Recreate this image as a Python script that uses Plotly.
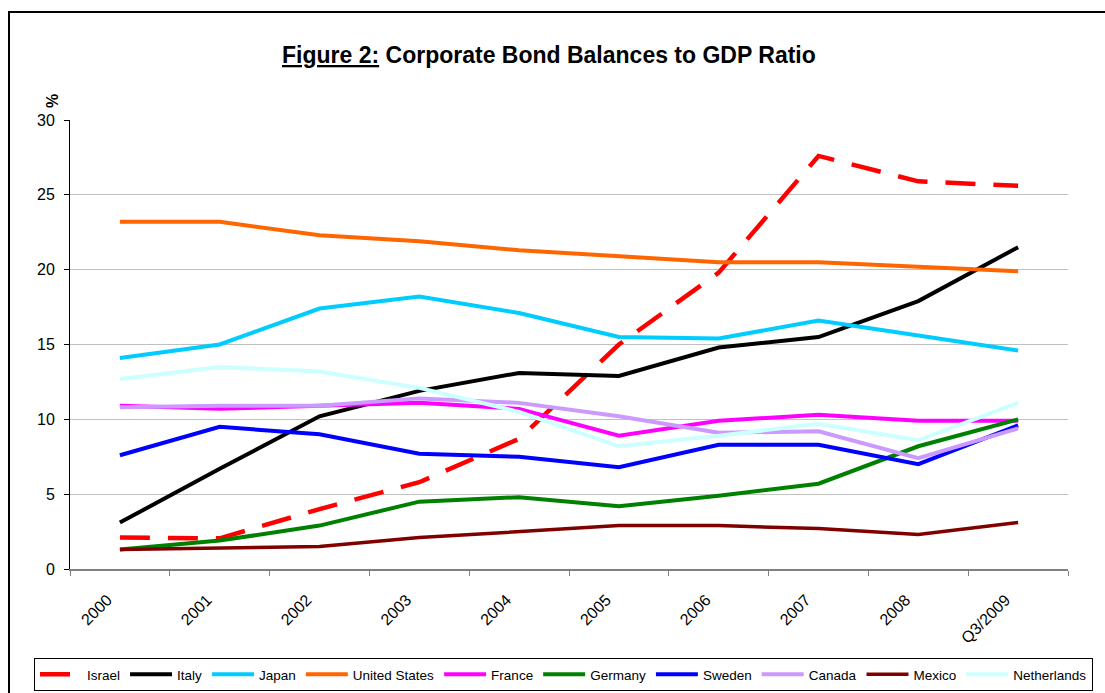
import plotly.graph_objects as go

years = ["2000", "2001", "2002", "2003", "2004", "2005", "2006", "2007", "2008", "Q3/2009"]

israel = [2.1, 2.05, 4.0, 5.8, 8.7, 15.0, 19.8, 27.6, 25.9, 25.6]
italy = [3.1, 6.7, 10.2, 11.9, 13.1, 12.9, 14.8, 15.5, 17.9, 21.5]
japan = [14.1, 15.0, 17.4, 18.2, 17.1, 15.5, 15.4, 16.6, 15.6, 14.6]
united_states = [23.2, 23.2, 22.3, 21.9, 21.3, 20.9, 20.5, 20.5, 20.2, 19.9]
france = [10.9, 10.7, 10.9, 11.1, 10.7, 8.9, 9.9, 10.3, 9.9, 9.9]
germany = [1.3, 1.9, 2.9, 4.5, 4.8, 4.2, 4.9, 5.7, 8.2, 10.0]
sweden = [7.6, 9.5, 9.0, 7.7, 7.5, 6.8, 8.3, 8.3, 7.0, 9.6]
canada = [10.8, 10.9, 10.9, 11.4, 11.1, 10.2, 9.1, 9.2, 7.4, 9.4]
mexico = [1.3, 1.4, 1.5, 2.1, 2.5, 2.9, 2.9, 2.7, 2.3, 3.1]
netherlands = [12.7, 13.5, 13.2, 12.1, 10.5, 8.2, 8.9, 9.7, 8.6, 11.1]

series = [
    ("Israel", israel, "#FF0000", "30px,18px", 4.5),
    ("Italy", italy, "#000000", "solid", 4),
    ("Japan", japan, "#00CCFF", "solid", 4),
    ("United States", united_states, "#FF6600", "solid", 4),
    ("France", france, "#FF00FF", "solid", 4),
    ("Germany", germany, "#008000", "solid", 4),
    ("Sweden", sweden, "#0000FF", "solid", 4),
    ("Canada", canada, "#CC99FF", "solid", 4),
    ("Mexico", mexico, "#800000", "solid", 3.5),
    ("Netherlands", netherlands, "#CCFFFF", "solid", 4),
]

FONT = "Liberation Sans, Arial, sans-serif"

fig = go.Figure()
for name, vals, color, dash, width in series:
    fig.add_trace(go.Scatter(
        x=years, y=vals, name=name, mode="lines",
        line=dict(color=color, width=width, dash=dash),
    ))

W, H = 1105, 693
L, R, T, B = 70, 37, 120, 124
pw, ph = W - L - R, H - T - B

def px2x(px):
    return (px - L) / pw

def px2y(py):
    return (H - B - py) / ph

# tick text: category label padded so the rotated label ends left of the category centre
tick_text = [y + "\u00a0" * 4 for y in years]

fig.update_layout(
    width=W, height=H,
    margin=dict(l=L, r=R, t=T, b=B, autoexpand=False),
    paper_bgcolor="white", plot_bgcolor="white",
    font=dict(family=FONT, size=16, color="black"),
    showlegend=True,
    legend=dict(
        orientation="h", x=px2x(34), xanchor="left", y=px2y(658), yanchor="top",
        bordercolor="black", borderwidth=1, font=dict(size=13.5, family=FONT),
        bgcolor="white", tracegroupgap=0, itemwidth=42,
    ),
    xaxis=dict(
        type="category", showgrid=False, showline=True, linecolor="#808080", linewidth=1.5,
        ticks="outside", ticklen=5, tickcolor="#808080", tickson="boundaries",
        tickangle=-45, tickfont=dict(size=16, family=FONT), range=[-0.5, 9.5],
        tickmode="array", tickvals=years, ticktext=tick_text,
        ticklabelstandoff=1,
    ),
    yaxis=dict(
        range=[0, 30], dtick=5, showgrid=True, gridcolor="#C0C0C0", gridwidth=1,
        showline=True, linecolor="#000000", linewidth=1, ticks="outside", ticklen=5,
        tickcolor="#000000", tickfont=dict(size=16, family=FONT), zeroline=False,
        ticklabelstandoff=6,
    ),
    annotations=[
        dict(text="<b><u>Figure 2:</u> Corporate Bond Balances to GDP Ratio</b>",
             xref="paper", yref="paper", x=px2x(549), y=px2y(55),
             xanchor="center", yanchor="middle", showarrow=False,
             font=dict(size=23, family=FONT)),
        dict(text="<b>%</b>", xref="paper", yref="paper", x=px2x(52), y=px2y(101),
             xanchor="center", yanchor="middle", showarrow=False, textangle=-90,
             font=dict(size=16, family=FONT)),
    ],
    shapes=[
        dict(type="rect", xref="paper", yref="paper",
             x0=px2x(9), y0=px2y(720), x1=px2x(1130), y1=px2y(12),
             line=dict(color="black", width=2), fillcolor="rgba(0,0,0,0)", layer="below"),
    ],
)

fig.write_html("out.html", config={"displayModeBar": False},
               post_script="document.body.style.margin='0px';")
